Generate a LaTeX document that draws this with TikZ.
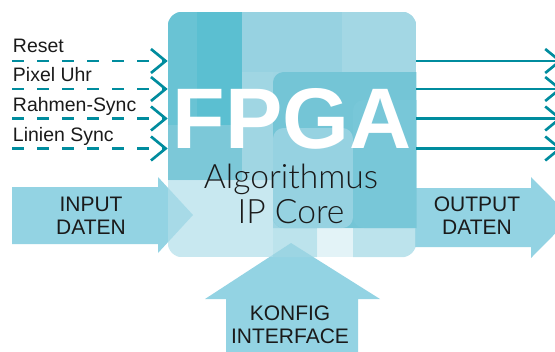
\documentclass[tikz,border=0pt]{standalone}
\usepackage{fontspec}
\setmainfont{Liberation Sans}
\newfontfamily\thinfont{Lato Light}
\definecolor{sigteal}{RGB}{0,140,158}
\definecolor{arrowblue}{RGB}{147,211,227}
\definecolor{txtdark}{RGB}{26,26,26}
\usetikzlibrary{arrows.meta,positioning,calc}

\begin{document}
\begin{tikzpicture}[x=0.75pt,y=0.75pt,yscale=-1,xscale=1,
	sigin/.style={draw=sigteal,line width=2,dash pattern=on 9pt off 9.75pt,-{Straight Barb[length=11pt,width=18pt]}},
	sigout/.style={draw=sigteal,line width=2,-{Straight Barb[length=11pt,width=18pt]}},
	siglabel/.style={anchor=base west,inner sep=0,text=txtdark,font=\fontsize{14.6}{17}\selectfont},
	bigarrow/.style={fill=arrowblue},
	arrowlabel/.style={inner sep=0,align=center,text=txtdark,font=\fontsize{15.75}{17.6}\selectfont}]
	\useasboundingbox (0,0) rectangle (555,351);
	
	%Shape: Arrow [id:input]
	\fill [bigarrow] (12,187) -- (158,187) -- (158,177) -- (193,215) -- (158,253) -- (158,244) -- (12,244) -- cycle ;
	%Shape: Arrow [id:output]
	\fill [bigarrow] (415,188) -- (531,188) -- (531,177) -- (571,217.5) -- (531,258) -- (531,247) -- (415,247) -- cycle ;
	%Shape: Arrow [id:konfig]
	\fill [bigarrow] (226,360) -- (226,299) -- (205,299) -- (291,243) -- (380,299) -- (358,299) -- (358,360) -- cycle ;
	
	%Shape: Rounded Rect [id:fpga]
	\node [minimum width=186pt,minimum height=183.75pt,inner sep=0] (fpga) at (292,134.5) {};
	\begin{scope}
	\path [clip,rounded corners=11pt] (fpga.south west) rectangle (fpga.north east);
	\fill [color={rgb, 255:red, 158; green, 213; blue, 227 }] (168,12) rectangle (416,180) (273,180) rectangle (416,228);
	\fill [color={rgb, 255:red, 105; green, 195; blue, 212 }] (168,12) rectangle (197,125);
	\fill [color={rgb, 255:red, 91; green, 191; blue, 209 }] (197,12) rectangle (242,125);
	\fill [color={rgb, 255:red, 124; green, 200; blue, 216 }] (168,125) rectangle (242,180);
	\fill [color={rgb, 255:red, 151; green, 210; blue, 225 }] (242,12) rectangle (342,72);
	\fill [color={rgb, 255:red, 163; green, 215; blue, 228 }] (342,12) rectangle (416,72);
	\fill [color={rgb, 255:red, 160; green, 214; blue, 227 }] (242,72) rectangle (273,180);
	\fill [color={rgb, 255:red, 116; green, 197; blue, 214 }, rounded corners=8pt] (273,72) rectangle (440,228);
	\fill [color={rgb, 255:red, 150; green, 210; blue, 225 }, rounded corners=8pt] (273,128) rectangle (353,228);
	\fill [color={rgb, 255:red, 120; green, 199; blue, 216 }, rounded corners=8pt] (353,100) rectangle (440,228);
	\fill [color={rgb, 255:red, 176; green, 222; blue, 234 }, fill opacity=0.7] (168,180) rectangle (273,257);
	\fill [color={rgb, 255:red, 160; green, 215; blue, 228 }, fill opacity=0.7] (273,228) rectangle (317,257) (353,228) rectangle (416,257);
	\fill [color={rgb, 255:red, 215; green, 238; blue, 244 }, fill opacity=0.7] (317,228) rectangle (353,257);
	\end{scope}
	
	% Text Node
	\node [inner sep=0,text=white,font=\fontsize{64.5}{64.5}\selectfont\bfseries] (fpgatitle) at (292,118.5) {FPGA};
	% Text Node
	\node [inner sep=0,align=center,text=txtdark,font=\thinfont\fontsize{25.2}{26.25}\selectfont] (algo) at (291,193.5) {Algorithmus\\IP Core};
	
	% Text Node
	\node [siglabel] (lbl-reset) at (12.7,52.7) {Reset};
	% Text Node
	\node [siglabel] (lbl-pixel) at (12.7,81.7) {Pixel Uhr};
	% Text Node
	\node [siglabel] (lbl-frame) at (12.7,111.7) {Rahmen-Sync};
	% Text Node
	\node [siglabel] (lbl-line) at (12.7,141.2) {Linien Sync};
	
	%Straight Lines [id:inputs]
	\coordinate (in-reset) at (12,61);
	\coordinate (in-pixel) at (12,89);
	\coordinate (in-frame) at (12,118.5);
	\coordinate (in-line) at (12,148.5);
	\draw [sigin] (in-reset) -- (in-reset -| fpga.west);
	\draw [sigin] (in-pixel) -- (in-pixel -| fpga.west);
	\draw [sigin] (in-frame) -- (in-frame -| fpga.west);
	\draw [sigin] (in-line) -- (in-line -| fpga.west);
	
	%Straight Lines [id:outputs]
	\coordinate (out-reset) at (562,61);
	\coordinate (out-pixel) at (562,89);
	\coordinate (out-frame) at (562,118.5);
	\coordinate (out-line) at (562,148.5);
	\draw [sigout] (fpga.east |- out-reset) -- (out-reset);
	\draw [sigout] (fpga.east |- out-pixel) -- (out-pixel);
	\draw [sigout] (fpga.east |- out-frame) -- (out-frame);
	\draw [sigout] (fpga.east |- out-line) -- (out-line);
	
	% Text Node
	\node [arrowlabel] (inlabel) at (91,216) {INPUT\\DATEN};
	% Text Node
	\node [arrowlabel] (outlabel) at (477,215.5) {OUTPUT\\DATEN};
	% Text Node
	\node [arrowlabel] (cfglabel) at (290,324.5) {KONFIG\\INTERFACE};
	
\end{tikzpicture}
\end{document}
